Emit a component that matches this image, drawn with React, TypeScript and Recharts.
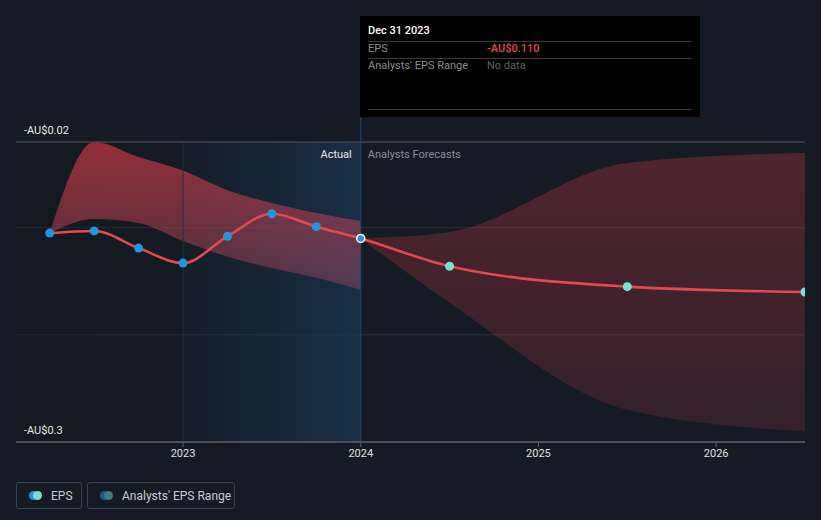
import React from "react";
import {
  ComposedChart,
  Line,
  Area,
  XAxis,
  YAxis,
  CartesianGrid,
  ReferenceArea,
  ReferenceLine,
} from "recharts";

// quarter positions as fractional years
const dates = [2022.25, 2022.5, 2022.75, 2023.0, 2023.25, 2023.5, 2023.75, 2024.0, 2024.5, 2025.5, 2026.5];
const epsValues = [-0.105, -0.103, -0.119, -0.133, -0.108, -0.087, -0.099, -0.11, -0.136, -0.155, -0.16];

// past analyst range (up to Dec 2023)
const pastLow = [-0.105, -0.0919, -0.0956, -0.1124, -0.127, -0.1376, -0.1467, -0.158];
const pastHigh = [-0.105, -0.02, -0.034, -0.0466, -0.065, -0.077, -0.0863, -0.0937];

// forecast range (from Dec 2023)
const forecastLow = [-0.11, -0.17, -0.27, -0.29];
const forecastHigh = [-0.11, -0.104, -0.0396, -0.03];

const yTicks = [-0.3, -0.2, -0.1, -0.02];
const xTicks = [2023, 2024, 2025, 2026];
const ACTUAL_COUNT = 8;

const data = dates.map((x, i) => {
  const row: any = { x, eps: epsValues[i] };
  if (i < pastLow.length) row.past = [pastLow[i], pastHigh[i]];
  const fi = i - (ACTUAL_COUNT - 1);
  if (fi >= 0) row.forecast = [forecastLow[fi], forecastHigh[fi]];
  return row;
});

const FONT = "Roboto, 'Noto Sans', sans-serif";

const EpsDot = (props: any) => {
  const { cx, cy, index } = props;
  if (cx == null || cy == null) return null;
  if (index === ACTUAL_COUNT - 1) {
    return <circle key={index} cx={cx} cy={cy} r={4} fill="#2394df" stroke="#ffffff" strokeWidth={1.5} />;
  }
  const fill = index < ACTUAL_COUNT ? "#2394df" : "#72e3d4";
  return <circle key={index} cx={cx} cy={cy} r={4.5} fill={fill} stroke="none" />;
};

const DividerLabel = (props: any) => {
  const { viewBox } = props;
  const x = viewBox.x;
  const y = viewBox.y + 16;
  return (
    <g style={{ fontFamily: FONT, fontSize: 11 }}>
      <text x={x - 9} y={y} textAnchor="end" fill="#e8e8e8">Actual</text>
      <text x={x + 7} y={y} textAnchor="start" fill="#8a8f96">Analysts Forecasts</text>
    </g>
  );
};

function LegendItem({ colors, label, width }: { colors: string[]; label: string; width: number }) {
  return (
    <div
      style={{
        width,
        height: 27,
        boxSizing: "border-box",
        border: "1px solid #3b404a",
        borderRadius: 3,
        display: "flex",
        alignItems: "center",
        paddingLeft: 12,
        fontSize: 12,
        color: "#c9ccd0",
        whiteSpace: "nowrap",
      }}
    >
      <span style={{ position: "relative", width: 14, height: 9, display: "inline-block", marginRight: 8, flexShrink: 0 }}>
        <span style={{ position: "absolute", left: 0, top: 0, width: 9, height: 9, borderRadius: 5, background: colors[0] }} />
        <span style={{ position: "absolute", left: 4, top: 0, width: 9, height: 9, borderRadius: 5, background: colors[1] }} />
      </span>
      {label}
    </div>
  );
}

export default function App() {
  return (
    <div
      style={{
        position: "absolute",
        left: 0,
        top: 0,
        width: 821,
        height: 520,
        background: "#151b24",
        fontFamily: FONT,
        overflow: "hidden",
      }}
    >
      <ComposedChart width={821} height={520} data={data} margin={{ top: 142, right: 16, bottom: 48, left: 16 }}>
        <defs>
          <linearGradient id="actualShade" x1="0" y1="0" x2="1" y2="0">
            <stop offset="0%" stopColor="#1a3a58" stopOpacity={0.05} />
            <stop offset="100%" stopColor="#1a3a58" stopOpacity={0.65} />
          </linearGradient>
          <linearGradient id="pastShade" x1="0" y1="0" x2="1" y2="0">
            <stop offset="0%" stopColor="#0e1218" stopOpacity={0.25} />
            <stop offset="100%" stopColor="#0e1218" stopOpacity={0.12} />
          </linearGradient>
          <linearGradient id="pastBand" x1="0" y1="0" x2="0" y2="1">
            <stop offset="0%" stopColor="#d0383f" stopOpacity={0.68} />
            <stop offset="100%" stopColor="#c8506a" stopOpacity={0.32} />
          </linearGradient>
          <linearGradient id="forecastBand" x1="0" y1="0" x2="0" y2="1">
            <stop offset="0%" stopColor="#d83a46" stopOpacity={0.3} />
            <stop offset="100%" stopColor="#c83a46" stopOpacity={0.17} />
          </linearGradient>
        </defs>
        <ReferenceArea x1={2022.06} x2={2023} fill="url(#pastShade)" fillOpacity={1} stroke="none" />
        <ReferenceArea x1={2023} x2={2024} fill="url(#actualShade)" fillOpacity={1} stroke="none" />
        <CartesianGrid horizontal vertical={false} stroke="#2a303a" strokeWidth={1} />
        <XAxis
          type="number"
          dataKey="x"
          domain={[2022.06, 2026.5]}
          ticks={xTicks}
          allowDataOverflow
          tickFormatter={(v) => String(Math.round(v))}
          stroke="#5a5f68"
          tickSize={5}
          tick={{ fill: "#e0e0e0", fontSize: 11, fontFamily: FONT }}
          height={30}
        />
        <YAxis type="number" domain={[-0.3, -0.02]} ticks={yTicks} allowDataOverflow hide />
        <ReferenceLine x={2023} stroke="#1b3245" strokeWidth={1} />
        <ReferenceLine
          segment={[{ x: 2024, y: 0.0033 }, { x: 2024, y: -0.3 }]}
          ifOverflow="visible"
          stroke="#1f4868"
          strokeWidth={1}
        />
        <ReferenceLine x={2024} stroke="none" label={<DividerLabel />} />
        <ReferenceLine
          y={-0.02}
          stroke="#4a4f58"
          label={{ value: "-AU$0.02", position: "insideBottomLeft", offset: 8, fill: "#e6e6e6", fontSize: 11, fontFamily: FONT }}
        />
        <ReferenceLine
          y={-0.3}
          stroke="#5a5f68"
          label={{ value: "-AU$0.3", position: "insideBottomLeft", offset: 8, fill: "#e6e6e6", fontSize: 11, fontFamily: FONT }}
        />
        <Area
          type="monotone"
          dataKey="past"
          stroke="none"
          fill="url(#pastBand)"
          fillOpacity={1}
          isAnimationActive={false}
          connectNulls={false}
          activeDot={false}
        />
        <Area
          type="monotone"
          dataKey="forecast"
          stroke="none"
          fill="url(#forecastBand)"
          fillOpacity={1}
          isAnimationActive={false}
          connectNulls={false}
          activeDot={false}
        />
        <Line
          type="monotone"
          dataKey="eps"
          stroke="#e5484d"
          strokeWidth={2.6}
          dot={<EpsDot />}
          activeDot={false}
          isAnimationActive={false}
        />
      </ComposedChart>

      {/* static tooltip for Dec 31 2023 */}
      <div
        style={{
          position: "absolute",
          left: 360,
          top: 16,
          width: 340,
          height: 101,
          background: "#000000",
          fontSize: 11,
        }}
      >
        <div style={{ position: "absolute", left: 8, top: 8, color: "#ffffff", fontWeight: 500 }}>Dec 31 2023</div>
        <div style={{ position: "absolute", left: 8, right: 8, top: 25, borderTop: "1px solid #3a3a3a" }} />
        <div style={{ position: "absolute", left: 8, top: 26, color: "#8a8d92" }}>EPS</div>
        <div style={{ position: "absolute", left: 127, top: 26, color: "#e8474c", fontWeight: 500 }}>-AU$0.110</div>
        <div style={{ position: "absolute", left: 8, right: 8, top: 42, borderTop: "1px solid #3a3a3a" }} />
        <div style={{ position: "absolute", left: 8, top: 43, color: "#8a8d92" }}>Analysts' EPS Range</div>
        <div style={{ position: "absolute", left: 127, top: 43, color: "#5d6066" }}>No data</div>
        <div style={{ position: "absolute", left: 8, right: 8, top: 93, borderTop: "1px solid #3a3a3a" }} />
      </div>

      {/* legend */}
      <div style={{ position: "absolute", left: 16, top: 482, display: "flex", gap: 5 }}>
        <LegendItem colors={["#2394df", "#72e3d4"]} label="EPS" width={66} />
        <LegendItem colors={["#1d5a85", "#3b7f7a"]} label="Analysts' EPS Range" width={148} />
      </div>
    </div>
  );
}
